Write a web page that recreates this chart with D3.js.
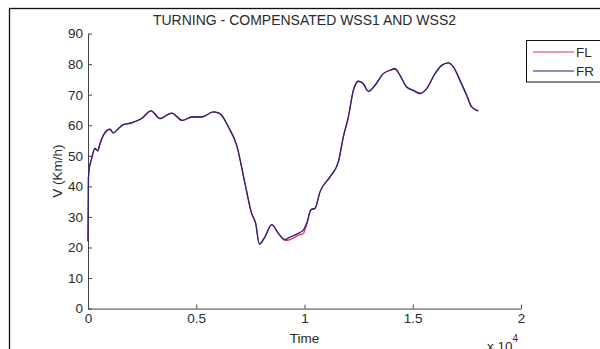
<!DOCTYPE html>
<html>
<head>
<meta charset="utf-8">
<script src="https://cdn.jsdelivr.net/npm/d3@7"></script>
<style>
  html, body { margin: 0; padding: 0; background: #fff; }
  svg { display: block; font-family: "Liberation Sans", Arial, sans-serif; }
</style>
</head>
<body>
<svg id="chart" width="600" height="349"></svg>
<script>
// Sample times (s) and wheel speeds (km/h)
const time = [0, 20, 60, 150, 323, 447, 554, 707, 1016, 1170, 1401, 1632, 2017, 2479, 2910,
  3326, 3865, 4358, 4789, 5251, 5789, 6097, 6481, 6866, 7252, 7560, 7745, 7914, 8177,
  8485, 8793, 9101, 9330, 9563, 9780, 9948, 10101, 10301, 10486, 10716, 11178, 11563,
  11794, 12025, 12256, 12487, 12717, 12948, 13257, 13641, 13950, 14181, 14412, 14720,
  15027, 15335, 15643, 16028, 16336, 16643, 16874, 17182, 17491, 17722, 18028];
const speedFR = [22, 42.6, 46, 48.6, 52.4, 51.6, 54, 56.7, 58.7, 57.5, 58.9, 60.2, 60.8, 62.2, 64.7,
  62.2, 64.0, 61.6, 62.7, 62.7, 64.4, 63.8, 59.5, 53.5, 40.9, 31.1, 27.9, 21.1, 23.5,
  27.5, 24.6, 22.6, 23.4, 24.1, 24.9, 25.7, 27.9, 32.4, 32.8, 38.2, 43.1, 48.0,
  56.2, 62.7, 71.4, 74.4, 73.6, 71.1, 73.1, 76.9, 78.0, 78.5, 76.3, 72.5,
  71.4, 70.4, 72.0, 76.9, 79.6, 80.4, 79.1, 74.7, 69.8, 66.0, 64.7];
const speedFL = [22, 42.6, 46, 48.6, 52.4, 51.6, 54, 56.7, 58.7, 57.5, 58.9, 60.2, 60.8, 62.2, 64.7,
  62.2, 64.0, 61.6, 62.7, 62.7, 64.4, 63.8, 59.5, 53.5, 40.9, 31.1, 27.9, 21.1, 23.5,
  27.5, 24.6, 22.3, 22.6, 23.4, 24.2, 24.6, 27.5, 32.4, 32.8, 38.2, 43.1, 48.0,
  56.2, 62.7, 71.4, 74.4, 73.6, 71.1, 73.1, 76.9, 78.0, 78.5, 76.3, 72.5,
  71.4, 70.4, 72.0, 76.9, 79.6, 80.4, 79.1, 74.7, 69.8, 66.0, 64.7];
const xTicks = [0, 5000, 10000, 15000, 20000];
const yTicks = [0, 10, 20, 30, 40, 50, 60, 70, 80, 90];
const seriesNames = ["FL", "FR"];
const seriesColors = ["#e8334f", "#23237e"];

const svg = d3.select("#chart");
const margin = { left: 88, right: 79, top: 33.6, bottom: 40.4 };
const W = 600, H = 349;
const fontFamily = "'Liberation Sans', Arial, sans-serif";

const x = d3.scaleLinear().domain([0, 20000]).range([margin.left, W - margin.right]);
const y = d3.scaleLinear().domain([0, 90]).range([H - margin.bottom, margin.top]);

// Figure frame
svg.append("rect")
  .attr("x", 9.5).attr("y", 8.5).attr("width", 700).attr("height", 500)
  .attr("fill", "none").attr("stroke", "#111").attr("stroke-width", 1.3);

const textColor = "#2a2a2a";

// Axes (ticks drawn inward)
const xAxis = d3.axisBottom(x).tickValues(xTicks).tickSizeInner(-4).tickSizeOuter(0)
  .tickPadding(8).tickFormat(d => d3.format("~g")(d / 10000));
const yAxis = d3.axisLeft(y).tickValues(yTicks).tickSizeInner(-4).tickSizeOuter(0)
  .tickPadding(5).tickFormat(d3.format("d"));

const gx = svg.append("g").attr("transform", `translate(0,${y(0)})`).call(xAxis);
const gy = svg.append("g").attr("transform", `translate(${x(0)},0)`).call(yAxis);
[gx, gy].forEach(g => {
  g.select(".domain").attr("stroke", "#444").attr("stroke-width", 1);
  g.selectAll(".tick line").attr("stroke", "#444");
  g.selectAll(".tick text").attr("fill", textColor)
    .style("font-size", "13.5px").style("font-family", fontFamily);
});
gx.selectAll(".tick text").attr("dy", "0.5em");

// Series lines
const line = d3.line().x((d, i) => x(time[i])).y(d => y(d)).curve(d3.curveMonotoneX);
[speedFL, speedFR].forEach((s, k) => {
  svg.append("path").datum(s)
    .attr("d", line)
    .attr("fill", "none")
    .attr("stroke", seriesColors[k])
    .attr("stroke-width", 1.3)
    .attr("stroke-linejoin", "round");
});

// Title and axis labels
svg.append("text").attr("x", x(10000)).attr("y", 25).attr("text-anchor", "middle")
  .attr("fill", textColor).style("font-size", "14px")
  .text("TURNING - COMPENSATED WSS1 AND WSS2");
svg.append("text").attr("x", x(10000)).attr("y", 343).attr("text-anchor", "middle")
  .attr("fill", textColor).style("font-size", "13.5px").text("Time");
svg.append("text").attr("transform", `translate(62,${y(45)}) rotate(-90)`)
  .attr("text-anchor", "middle").attr("fill", textColor).style("font-size", "13.5px")
  .text("V (Km/h)");
// Axis multiplier, sitting at the figure's lower edge
const exp = svg.append("text").attr("x", 487).attr("y", 351)
  .attr("fill", textColor).style("font-size", "13.5px");
exp.append("tspan").text("x 10");
exp.append("tspan").attr("dy", -9).style("font-size", "10px").text("4");

// Legend
const lg = svg.append("g");
lg.append("rect").attr("x", 526.5).attr("y", 40.5).attr("width", 100).attr("height", 41.5)
  .attr("fill", "#fff").attr("stroke", "#111").attr("stroke-width", 1);
seriesNames.forEach((name, k) => {
  const ly = 52 + k * 19;
  lg.append("line").attr("x1", 533).attr("x2", 574).attr("y1", ly).attr("y2", ly)
    .attr("stroke", seriesColors[k]).attr("stroke-width", 1.2);
  lg.append("text").attr("x", 576).attr("y", ly + 5).attr("fill", textColor)
    .style("font-size", "13.5px").text(name);
});
</script>
</body>
</html>
